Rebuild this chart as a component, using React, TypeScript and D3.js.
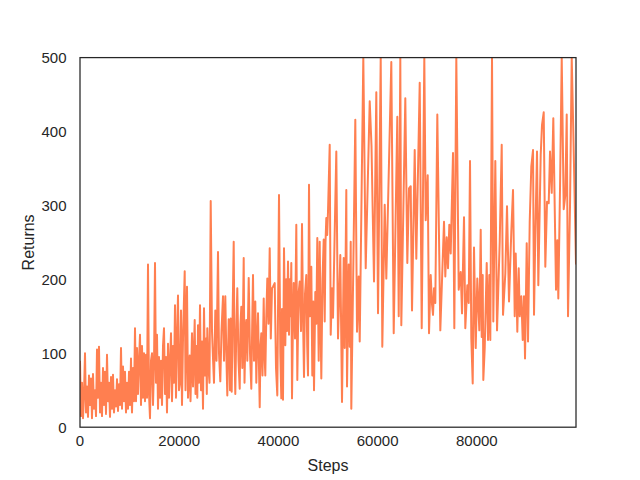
import React from 'react';
import * as d3 from 'd3';

const xTicks = [0, 20000, 40000, 60000, 80000];
const yTicks = [0, 100, 200, 300, 400, 500];
const xLabel = 'Steps';
const yLabel = 'Returns';

// [step, return]
const returnsByStep: [number, number][] = [
  [0, 90], [202, 15], [403, 60], [605, 12], [806, 45], [1008, 100], [1210, 20], [1411, 55], [1613, 14], [1814, 70],
  [2016, 30], [2218, 66], [2419, 12], [2621, 72], [2822, 25], [3024, 50], [3226, 15], [3427, 105], [3629, 40], [3830, 109],
  [4032, 20], [4234, 60], [4435, 15], [4637, 80], [4838, 30], [5040, 75], [5242, 18], [5443, 98], [5645, 35], [5846, 60],
  [6048, 14], [6250, 68], [6451, 25], [6653, 71], [6854, 20], [7056, 50], [7258, 28], [7459, 65], [7661, 22], [7862, 58],
  [8064, 30], [8266, 107], [8467, 25], [8669, 82], [8870, 35], [9072, 75], [9274, 20], [9475, 60],
  [9677, 25], [9878, 75], [10080, 30], [10282, 93], [10483, 20], [10685, 80], [10886, 35], [11088, 134], [11290, 35], [11491, 107],
  [11693, 45], [11894, 90], [12096, 125], [12298, 30], [12499, 110], [12701, 40], [12902, 100], [13104, 35], [13306, 98], [13507, 40],
  [13709, 220], [13910, 45], [14112, 12], [14314, 90], [14515, 100], [14717, 30], [14918, 85], [15120, 222], [15322, 60], [15523, 125],
  [15725, 25], [15926, 95], [16128, 40], [16330, 90], [16531, 30], [16733, 110], [16934, 134], [17136, 45], [17338, 95], [17539, 20],
  [17741, 113], [17942, 40], [18144, 90], [18346, 127], [18547, 35], [18749, 110], [18950, 60], [19152, 165], [19354, 40], [19555, 120],
  [19757, 178], [19958, 50],
  [20160, 60], [20362, 158], [20563, 30], [20765, 120], [21108, 211], [21269, 50], [21571, 190], [21773, 40], [22116, 97], [22277, 35],
  [22579, 127], [22781, 55], [23124, 145], [23285, 45], [23486, 110], [23648, 40], [23789, 138], [23990, 60], [24192, 165], [24394, 50],
  [24595, 116], [24797, 25], [24998, 161], [25200, 70], [25402, 120], [25563, 45], [25664, 134], [25906, 80], [26107, 60], [26349, 306],
  [26611, 130], [26813, 93], [27014, 60], [27276, 158], [27518, 90], [27821, 237], [28022, 100], [28284, 62], [28526, 130], [28829, 177],
  [29030, 90], [29292, 177], [29494, 100], [29696, 43], [29978, 146], [30139, 120],
  [30240, 50], [30381, 147], [30583, 48], [30744, 140], [30986, 251], [31147, 100], [31308, 45], [31510, 130], [31712, 188], [31954, 90],
  [32196, 52], [32357, 140], [32518, 163], [32720, 80], [33002, 229], [33163, 60], [33365, 130], [33526, 145], [33728, 90], [34010, 202],
  [34272, 100], [34534, 52], [34716, 140], [34877, 206], [35078, 90], [35340, 170], [35542, 60], [35724, 120], [35885, 154], [36086, 80],
  [36228, 27], [36389, 110], [36550, 127], [36792, 70], [37034, 174], [37195, 100], [37356, 70], [37558, 150], [37760, 201], [38002, 140],
  [38244, 242], [38465, 120], [38707, 188], [38909, 190], [39252, 195], [39514, 80], [39776, 43], [40118, 314],
  [40380, 100], [40582, 39], [40723, 160], [40925, 37], [41126, 242], [41388, 111], [41570, 200], [41731, 130], [41933, 224], [42134, 125],
  [42276, 200], [42437, 150], [42598, 222], [42739, 39], [42941, 150], [43082, 195], [43344, 120], [43606, 274], [43808, 64], [44050, 180],
  [44292, 197], [44554, 130], [44755, 275], [44957, 150], [45158, 68], [45360, 180], [45622, 206], [45804, 110], [45965, 70], [46166, 328],
  [46368, 150], [46630, 217], [46832, 70], [47013, 170], [47174, 50], [47436, 183], [47638, 140], [47840, 256], [48122, 90], [48324, 251],
  [48485, 150], [48646, 66], [48888, 200], [49130, 254], [49332, 143], [49493, 250], [49654, 283], [49836, 260], [49997, 292], [50340, 382],
  [50541, 125], [50803, 188], [51005, 148], [51670, 373], [52013, 120], [52476, 233], [52819, 34], [53162, 229], [53364, 107], [53686, 321],
  [53827, 55], [54170, 220], [54372, 109], [54573, 251], [54694, 25], [55037, 188], [55500, 416], [55843, 129], [56186, 204], [56388, 116],
  [57113, 500], [57597, 215], [58404, 441], [58766, 380], [59270, 197], [59734, 453], [60077, 154], [60621, 500],
  [60944, 109], [61428, 301], [61750, 201], [62194, 330], [62758, 494], [63242, 127], [63968, 420], [64250, 150], [64572, 500], [64774, 138],
  [65580, 445], [65984, 222], [66326, 323], [66669, 326], [66931, 158], [67476, 375], [67798, 228], [68484, 466], [68887, 134], [69411, 500],
  [69693, 280], [70096, 341], [70358, 127],
  [70701, 206], [70963, 166], [71165, 152], [71366, 188], [71628, 168], [72032, 423], [72636, 131], [73382, 278], [73644, 204], [73927, 257],
  [74189, 215], [74451, 274], [74733, 235], [75197, 371], [75459, 134], [75862, 500], [76346, 186], [76749, 210], [77011, 154], [77414, 284],
  [77676, 134], [78080, 192], [78362, 168], [78624, 360], [78886, 120], [79168, 59], [79430, 243], [79773, 107], [80096, 201], [80499, 131],
  [80781, 267],
  [80983, 122], [81185, 206], [81305, 64], [81588, 107], [81991, 222], [82253, 118], [82515, 206], [82716, 118], [83059, 500], [83321, 143],
  [83724, 360], [84067, 131], [84612, 251], [85015, 382], [85277, 152], [85740, 208], [86083, 299], [86486, 170], [86950, 265], [87293, 321],
  [87636, 150], [87837, 235], [88160, 129], [88442, 215], [88644, 150], [88966, 177], [89248, 118], [89510, 177], [89712, 93], [90055, 249],
  [90317, 116], [90659, 278],
  [90982, 353], [91325, 375], [91526, 152], [91788, 260], [92131, 373], [92393, 192], [92877, 369], [93139, 409], [93482, 426], [93804, 217],
  [94147, 305], [94490, 303], [94752, 373], [95095, 317], [95417, 418], [95962, 186], [96224, 253], [96425, 174], [96768, 323], [97111, 500],
  [97514, 295], [97837, 314], [98119, 423], [98381, 150], [98784, 300], [99127, 500], [99449, 400], [99990, 220],
];

const W = 640;
const H = 480;
const left = 80;
const right = 576;
const top = 57.6;
const bottom = 427.2;
const textColor = '#262626';
const font = '"Liberation Sans", Arial, sans-serif';

export default function App() {
  const x = d3
    .scaleLinear()
    .domain([0, d3.max(returnsByStep, (d) => d[0]) as number])
    .range([left, right]);
  const y = d3.scaleLinear().domain([0, 500]).range([bottom, top]);
  const line = d3
    .line<[number, number]>()
    .x((d) => x(d[0]))
    .y((d) => y(d[1]));

  return (
    <svg
      width={W}
      height={H}
      style={{ position: 'absolute', left: 0, top: 0 }}
      fontFamily={font}
    >
      <rect x={0} y={0} width={W} height={H} fill="#ffffff" />
      <defs>
        <clipPath id="plotClip">
          <rect x={left} y={top} width={right - left} height={bottom - top} />
        </clipPath>
      </defs>
      <path
        d={line(returnsByStep) || ''}
        fill="none"
        stroke="#FF7F50"
        strokeWidth={2}
        strokeLinejoin="round"
        clipPath="url(#plotClip)"
      />
      <rect
        x={left}
        y={top}
        width={right - left}
        height={bottom - top}
        fill="none"
        stroke={textColor}
        strokeWidth={1.25}
      />
      {xTicks.map((t) => (
        <text
          key={`x${t}`}
          x={x(t)}
          y={446}
          textAnchor="middle"
          fontSize={15}
          fill={textColor}
        >
          {t}
        </text>
      ))}
      {yTicks.map((t) => (
        <text
          key={`y${t}`}
          x={66.5}
          y={y(t)}
          dy="0.36em"
          textAnchor="end"
          fontSize={15}
          fill={textColor}
        >
          {t}
        </text>
      ))}
      <text
        x={(left + right) / 2}
        y={471}
        textAnchor="middle"
        fontSize={16}
        fill={textColor}
      >
        {xLabel}
      </text>
      <text
        transform={`translate(34, ${(top + bottom) / 2}) rotate(-90)`}
        textAnchor="middle"
        fontSize={16}
        fill={textColor}
      >
        {yLabel}
      </text>
    </svg>
  );
}
